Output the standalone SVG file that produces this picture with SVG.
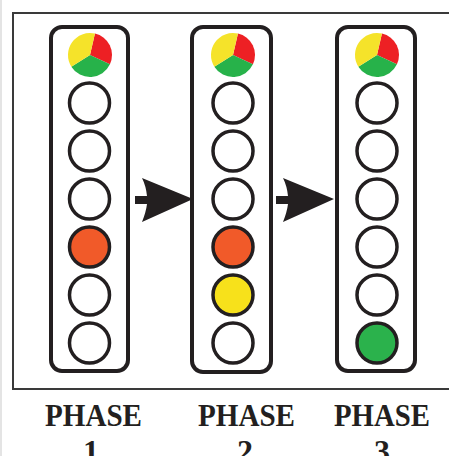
<svg xmlns="http://www.w3.org/2000/svg" width="449" height="456" viewBox="0 0 449 456">
<defs>
<style>
.frame{fill:none;stroke:#3a3a3a;stroke-width:2}
.box{fill:#fff;stroke:#231F20;stroke-width:4}
.lamp{stroke:#231F20;stroke-width:3.5}
.off{fill:#fff}
.orange{fill:#F15A29}
.yellow{fill:#F7E11B}
.green{fill:#2BB24C}
.arrow{fill:#231F20}
.lbl{font-family:"Liberation Serif","Times New Roman",serif;font-weight:bold;font-size:32px;fill:#231F20;text-anchor:middle}
</style>
<g id="pie">
<path d="M0,0 L4.95,-21.44 A22,22 0 0 1 19.94,9.3 Z" fill="#ED2024"/>
<path d="M0,0 L19.94,9.3 A22,22 0 0 1 -18.66,11.66 Z" fill="#27B24A"/>
<path d="M0,0 L-18.66,11.66 A22,22 0 0 1 4.95,-21.44 Z" fill="#F5E32A"/>
</g>
</defs>
<rect width="449" height="456" fill="#fff"/>
<line x1="1" y1="0" x2="1" y2="456" stroke="#e4e4e4" stroke-width="2"/>
<rect class="frame" x="13" y="13" width="450" height="376"/>

<g id="connectors">
<path class="arrow" d="M135,196 L147,196 Q146,186 142,178 L193,199 L142,222 Q146,212 147,204 L135,204 Z"/>
<path class="arrow" d="M135,196 L147,196 Q146,186 142,178 L193,199 L142,222 Q146,212 147,204 L135,204 Z" transform="translate(141,0)"/>
</g>

<g id="phase1">
<rect class="box" x="51" y="27" width="77" height="344" rx="11"/>
<use href="#pie" x="90" y="55"/>
<circle class="lamp off" cx="89.5" cy="103" r="20"/>
<circle class="lamp off" cx="89.5" cy="151" r="20"/>
<circle class="lamp off" cx="89.5" cy="199" r="20"/>
<circle class="lamp orange" cx="89.5" cy="247" r="20"/>
<circle class="lamp off" cx="89.5" cy="295" r="20"/>
<circle class="lamp off" cx="89.5" cy="343" r="20"/>
</g>

<g id="phase2">
<rect class="box" x="192" y="27" width="79" height="345" rx="11"/>
<use href="#pie" x="233" y="55"/>
<circle class="lamp off" cx="233" cy="103" r="20"/>
<circle class="lamp off" cx="233" cy="151" r="20"/>
<circle class="lamp off" cx="233" cy="199" r="20"/>
<circle class="lamp orange" cx="233" cy="247" r="20"/>
<circle class="lamp yellow" cx="233" cy="295" r="20"/>
<circle class="lamp off" cx="233" cy="343" r="20"/>
</g>

<g id="phase3">
<rect class="box" x="337" y="27" width="78" height="344" rx="11"/>
<use href="#pie" x="377" y="55"/>
<circle class="lamp off" cx="377" cy="103" r="20"/>
<circle class="lamp off" cx="377" cy="151" r="20"/>
<circle class="lamp off" cx="377" cy="199" r="20"/>
<circle class="lamp off" cx="377" cy="247" r="20"/>
<circle class="lamp off" cx="377" cy="295" r="20"/>
<circle class="lamp green" cx="377" cy="343" r="20"/>
</g>

<g id="labels">
<text class="lbl" x="93.5" y="426" textLength="97" lengthAdjust="spacingAndGlyphs">PHASE</text>
<text class="lbl" x="91" y="462">1</text>
<text class="lbl" x="246.5" y="426" textLength="97" lengthAdjust="spacingAndGlyphs">PHASE</text>
<text class="lbl" x="245" y="462">2</text>
<text class="lbl" x="382" y="426" textLength="96" lengthAdjust="spacingAndGlyphs">PHASE</text>
<text class="lbl" x="382" y="462">3</text>
</g>
</svg>
